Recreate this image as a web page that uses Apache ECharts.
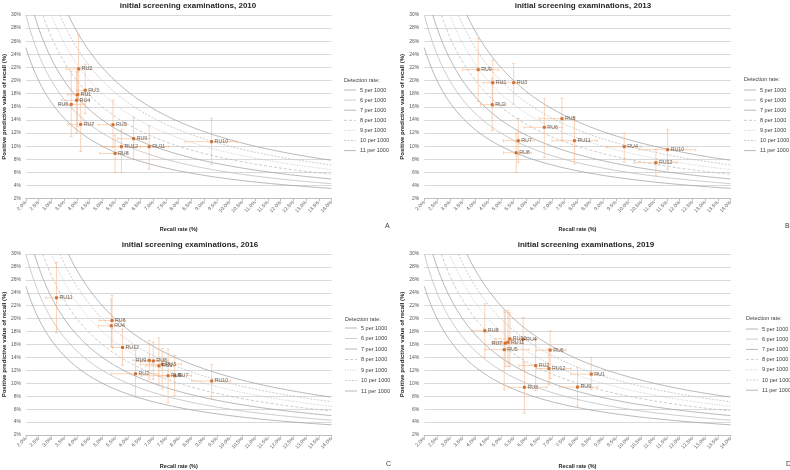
<!DOCTYPE html>
<html>
<head>
<meta charset="utf-8">
<script src="https://cdn.jsdelivr.net/npm/echarts@6/dist/echarts.min.js"></script>
<style>
  html, body { margin: 0; padding: 0; background: #fff; }
  #main { width: 790px; height: 470px; }
</style>
</head>
<body>
<div id="main"></div>
<script>
// panels A-D
var years = ['2010', '2013', '2016', '2019'];
var panelLetters = ['A', 'B', 'C', 'D'];
// iso-curves: detection rate per 1000 (PPV = detection / recall)
var detectionRates = [5, 6, 7, 8, 9, 10, 11];

// rows: [unit, recall %, recall low, recall high, PPV %, PPV low, PPV high]
var data2010 = [
  ['RU1', 4.03, 3.63, 4.43, 17.86, 13.0, 21.4],
  ['RU2', 4.07, 3.58, 4.56, 21.77, 17.0, 27.0],
  ['RU3', 4.33, 4.0, 4.7, 18.52, 15.0, 22.5],
  ['RU4', 3.99, 3.4, 4.5, 17.0, 12.0, 21.3],
  ['RU5', 5.42, 4.85, 5.95, 13.28, 9.8, 17.0],
  ['RU6', 3.78, 3.3, 4.3, 16.38, 11.5, 21.4],
  ['RU7', 4.15, 3.65, 4.65, 13.33, 9.2, 17.0],
  ['RU8', 5.5, 4.9, 6.0, 8.9, 6.0, 11.7],
  ['RU9', 6.23, 5.6, 6.86, 11.15, 8.0, 14.4],
  ['RU10', 9.29, 8.25, 10.27, 10.69, 7.24, 14.25],
  ['RU11', 6.84, 6.2, 7.6, 9.93, 6.5, 13.1],
  ['RU12', 5.75, 5.0, 6.5, 9.93, 6.0, 12.5]
];
var data2013 = [
  ['RU1', 4.68, 4.3, 5.1, 19.68, 16.0, 23.1],
  ['RU2', 4.66, 4.2, 5.2, 16.33, 12.4, 20.3],
  ['RU3', 5.5, 5.0, 5.9, 19.68, 16.4, 22.6],
  ['RU4', 9.83, 9.14, 10.5, 9.93, 7.6, 12.0],
  ['RU5', 7.39, 6.5, 7.9, 14.2, 11.0, 17.3],
  ['RU6', 6.7, 5.9, 7.4, 12.88, 8.3, 17.3],
  ['RU7', 5.68, 5.1, 6.3, 10.84, 7.54, 14.25],
  ['RU8', 5.6, 5.1, 6.2, 9.0, 6.0, 12.0],
  ['RU9', 4.11, 3.5, 4.9, 21.67, 16.8, 26.4],
  ['RU10', 11.53, 10.41, 12.63, 9.47, 6.47, 12.57],
  ['RU11', 7.88, 7.0, 8.77, 10.84, 7.3, 14.4],
  ['RU12', 11.07, 10.22, 11.9, 7.49, 5.46, 9.5]
];
var data2016 = [
  ['RU1', 7.22, 6.7, 7.8, 12.7, 9.7, 17.0],
  ['RU2', 6.3, 5.35, 7.2, 11.47, 7.85, 15.1],
  ['RU3', 7.35, 6.5, 8.1, 12.95, 9.1, 15.4],
  ['RU4', 5.35, 4.85, 5.8, 18.9, 15.6, 23.0],
  ['RU5', 7.58, 6.5, 8.1, 11.17, 7.0, 15.3],
  ['RU6', 5.38, 4.87, 5.87, 19.71, 15.6, 23.6],
  ['RU7', 7.84, 7.2, 8.5, 11.17, 8.05, 14.3],
  ['RU8', 7.0, 6.5, 7.6, 13.45, 10.6, 16.35],
  ['RU9', 6.84, 6.2, 7.4, 13.55, 10.6, 16.6],
  ['RU10', 9.29, 8.51, 10.03, 10.35, 7.6, 12.9],
  ['RU11', 3.2, 2.78, 3.69, 23.23, 17.8, 28.7],
  ['RU12', 5.79, 5.4, 6.3, 15.54, 12.8, 18.4]
];
var data2019 = [
  ['RU1', 8.54, 7.74, 8.94, 11.41, 9.0, 14.0],
  ['RU2', 6.36, 5.7, 6.85, 12.74, 8.9, 16.9],
  ['RU3', 5.92, 5.3, 6.8, 9.38, 5.4, 13.3],
  ['RU4', 5.87, 5.3, 6.4, 16.8, 12.0, 20.2],
  ['RU5', 5.13, 4.4, 6.1, 15.2, 9.0, 21.2],
  ['RU6', 6.93, 6.4, 7.55, 15.13, 10.75, 18.1],
  ['RU7', 5.17, 4.7, 5.6, 16.2, 12.6, 21.0],
  ['RU8', 4.37, 3.88, 4.9, 18.13, 14.0, 22.3],
  ['RU9', 8.0, 7.3, 8.81, 9.42, 6.5, 12.4],
  ['RU10', 5.35, 4.8, 5.9, 16.87, 12.6, 20.9],
  ['RU11', 5.28, 4.65, 5.85, 16.36, 12.6, 21.3],
  ['RU12', 6.88, 6.4, 7.75, 12.28, 9.74, 15.35]
];
var panelData = [data2010, data2013, data2016, data2019];

// labels that sit left of their point
var leftLabels = { '2010-RU6': 1, '2016-RU9': 1, '2019-RU7': 1 };

var FONT = "'Liberation Sans', Arial, sans-serif";
var grids = [
  { left: 24.5, top: 15, width: 307, height: 183.7 },
  { left: 424.3, top: 15, width: 306.4, height: 183.7 },
  { left: 25, top: 254, width: 306.7, height: 183.3 },
  { left: 424.3, top: 254, width: 306.4, height: 183.3 }
];
var titleX = [188, 583, 190, 586];
var titleY = [6, 6, 245, 245];
var legendX = [344, 744, 345, 746];
var legendY0 = [90, 90, 328, 329];
var legendPitch = [10.1, 10.1, 10.5, 10.2];
var captionY = [80, 79.5, 319, 318];
var letterPos = [[385, 226], [785, 226], [386, 464], [786, 464]];

var curveStyles = [
  { color: '#a6a6a6', dash: null },
  { color: '#bfbfbf', dash: null },
  { color: '#a6a6a6', dash: null },
  { color: '#bfbfbf', dash: [3, 2] },
  { color: '#bfbfbf', dash: [1, 1.5] },
  { color: '#bfbfbf', dash: [2, 1.5] },
  { color: '#a6a6a6', dash: null }
];
var curveNames = detectionRates.map(function (d) { return d + ' per 1000'; });

function curvePoints(d) {
  var pts = [];
  var start = Math.max(2, d * 10 / 30);
  for (var x = start; x <= 14.0001; x += 0.05) {
    pts.push([x, d * 10 / x]);
  }
  return pts;
}

function txt(s, x, y, font, align, color) {
  return {
    type: 'text', x: x, y: y, silent: true,
    style: { text: s, font: font, fill: color || '#404040', align: align || 'left', verticalAlign: 'middle' }
  };
}

var myChart = echarts.init(document.getElementById('main'));

var xAxes = [], yAxes = [], series = [], graphics = [];

grids.forEach(function (g, i) {
  graphics.push(txt('initial screening examinations, ' + years[i], titleX[i], titleY[i],
    'bold 8px ' + FONT, 'center', '#262626'));
  graphics.push(txt('Detection rate:', legendX[i], captionY[i], '5.5px ' + FONT));
  graphics.push(txt(panelLetters[i], letterPos[i][0], letterPos[i][1], '7px ' + FONT));
  curveNames.forEach(function (nm, k) {
    var y = legendY0[i] + k * legendPitch[i];
    graphics.push({
      type: 'line', silent: true,
      shape: { x1: legendX[i], y1: y, x2: legendX[i] + 12, y2: y },
      style: { stroke: curveStyles[k].color, lineWidth: 0.8, lineDash: curveStyles[k].dash }
    });
    graphics.push(txt(nm, legendX[i] + 16, y, '5.5px ' + FONT));
  });

  xAxes.push({
    gridIndex: i, type: 'value', min: 2, max: 14, interval: 0.5,
    name: 'Recall rate (%)', nameLocation: 'middle', nameGap: 28,
    nameTextStyle: { fontFamily: FONT, fontSize: 5.5, fontWeight: 'bold', color: '#262626' },
    axisLine: { show: true, lineStyle: { color: '#bfbfbf', width: 1 } },
    axisTick: { show: true, length: 2.5, lineStyle: { color: '#bfbfbf' } },
    splitLine: { show: false },
    axisLabel: {
      rotate: 45, margin: 3, fontFamily: FONT, fontSize: 5, color: '#595959',
      formatter: function (v) { return v.toFixed(1) + '%'; }
    }
  });
  yAxes.push({
    gridIndex: i, type: 'value', min: 2, max: 30, interval: 2,
    name: 'Positive predictive value of recall (%)', nameLocation: 'middle', nameGap: 17,
    nameTextStyle: { fontFamily: FONT, fontSize: 6, fontWeight: 'bold', color: '#262626' },
    axisLine: { show: false }, axisTick: { show: false },
    splitLine: { show: true, lineStyle: { color: '#d9d9d9', width: 1 } },
    axisLabel: {
      margin: 5, fontFamily: FONT, fontSize: 5, color: '#595959',
      formatter: function (v) { return v + '%'; }
    }
  });

  detectionRates.forEach(function (d, k) {
    series.push({
      name: curveNames[k], type: 'line', xAxisIndex: i, yAxisIndex: i,
      data: curvePoints(d), showSymbol: false, symbol: 'none', clip: true, silent: true,
      lineStyle: { color: curveStyles[k].color, type: curveStyles[k].dash || 'solid', width: 0.8 },
      z: 1
    });
  });

  var rows = panelData[i];
  series.push({
    type: 'custom', xAxisIndex: i, yAxisIndex: i, z: 2, silent: true,
    data: rows.map(function (r) { return r.slice(1); }),
    encode: { x: 0, y: 3 },
    renderItem: function (params, api) {
      var rr = api.value(0), ppv = api.value(3);
      var h1 = api.coord([api.value(1), ppv]), h2 = api.coord([api.value(2), ppv]);
      var v1 = api.coord([rr, api.value(4)]), v2 = api.coord([rr, api.value(5)]);
      var c = 1.5;
      var st = { stroke: '#f4b183', lineWidth: 0.8, opacity: 0.7 };
      function ln(x1, y1, x2, y2) {
        return { type: 'line', shape: { x1: x1, y1: y1, x2: x2, y2: y2 }, style: st };
      }
      return {
        type: 'group',
        children: [
          ln(h1[0], h1[1], h2[0], h2[1]),
          ln(h1[0], h1[1] - c, h1[0], h1[1] + c),
          ln(h2[0], h2[1] - c, h2[0], h2[1] + c),
          ln(v1[0], v1[1], v2[0], v2[1]),
          ln(v1[0] - c, v1[1], v1[0] + c, v1[1]),
          ln(v2[0] - c, v2[1], v2[0] + c, v2[1])
        ]
      };
    }
  });

  series.push({
    type: 'scatter', xAxisIndex: i, yAxisIndex: i, z: 3, silent: true,
    symbol: 'rect', symbolSize: 3,
    itemStyle: { color: '#c55a11' },
    data: rows.map(function (r) {
      var left = leftLabels[years[i] + '-' + r[0]];
      return {
        name: r[0], value: [r[1], r[4]],
        label: { position: left ? 'left' : 'right' }
      };
    }),
    label: {
      show: true, formatter: '{b}', distance: 1.5,
      fontFamily: FONT, fontSize: 5.3, color: '#404040'
    }
  });
});

var options = {
  animation: false,
  backgroundColor: '#ffffff',
  grid: grids,
  xAxis: xAxes,
  yAxis: yAxes,
  series: series,
  graphic: graphics
};
myChart.setOption(options, true);
</script>
</body>
</html>
